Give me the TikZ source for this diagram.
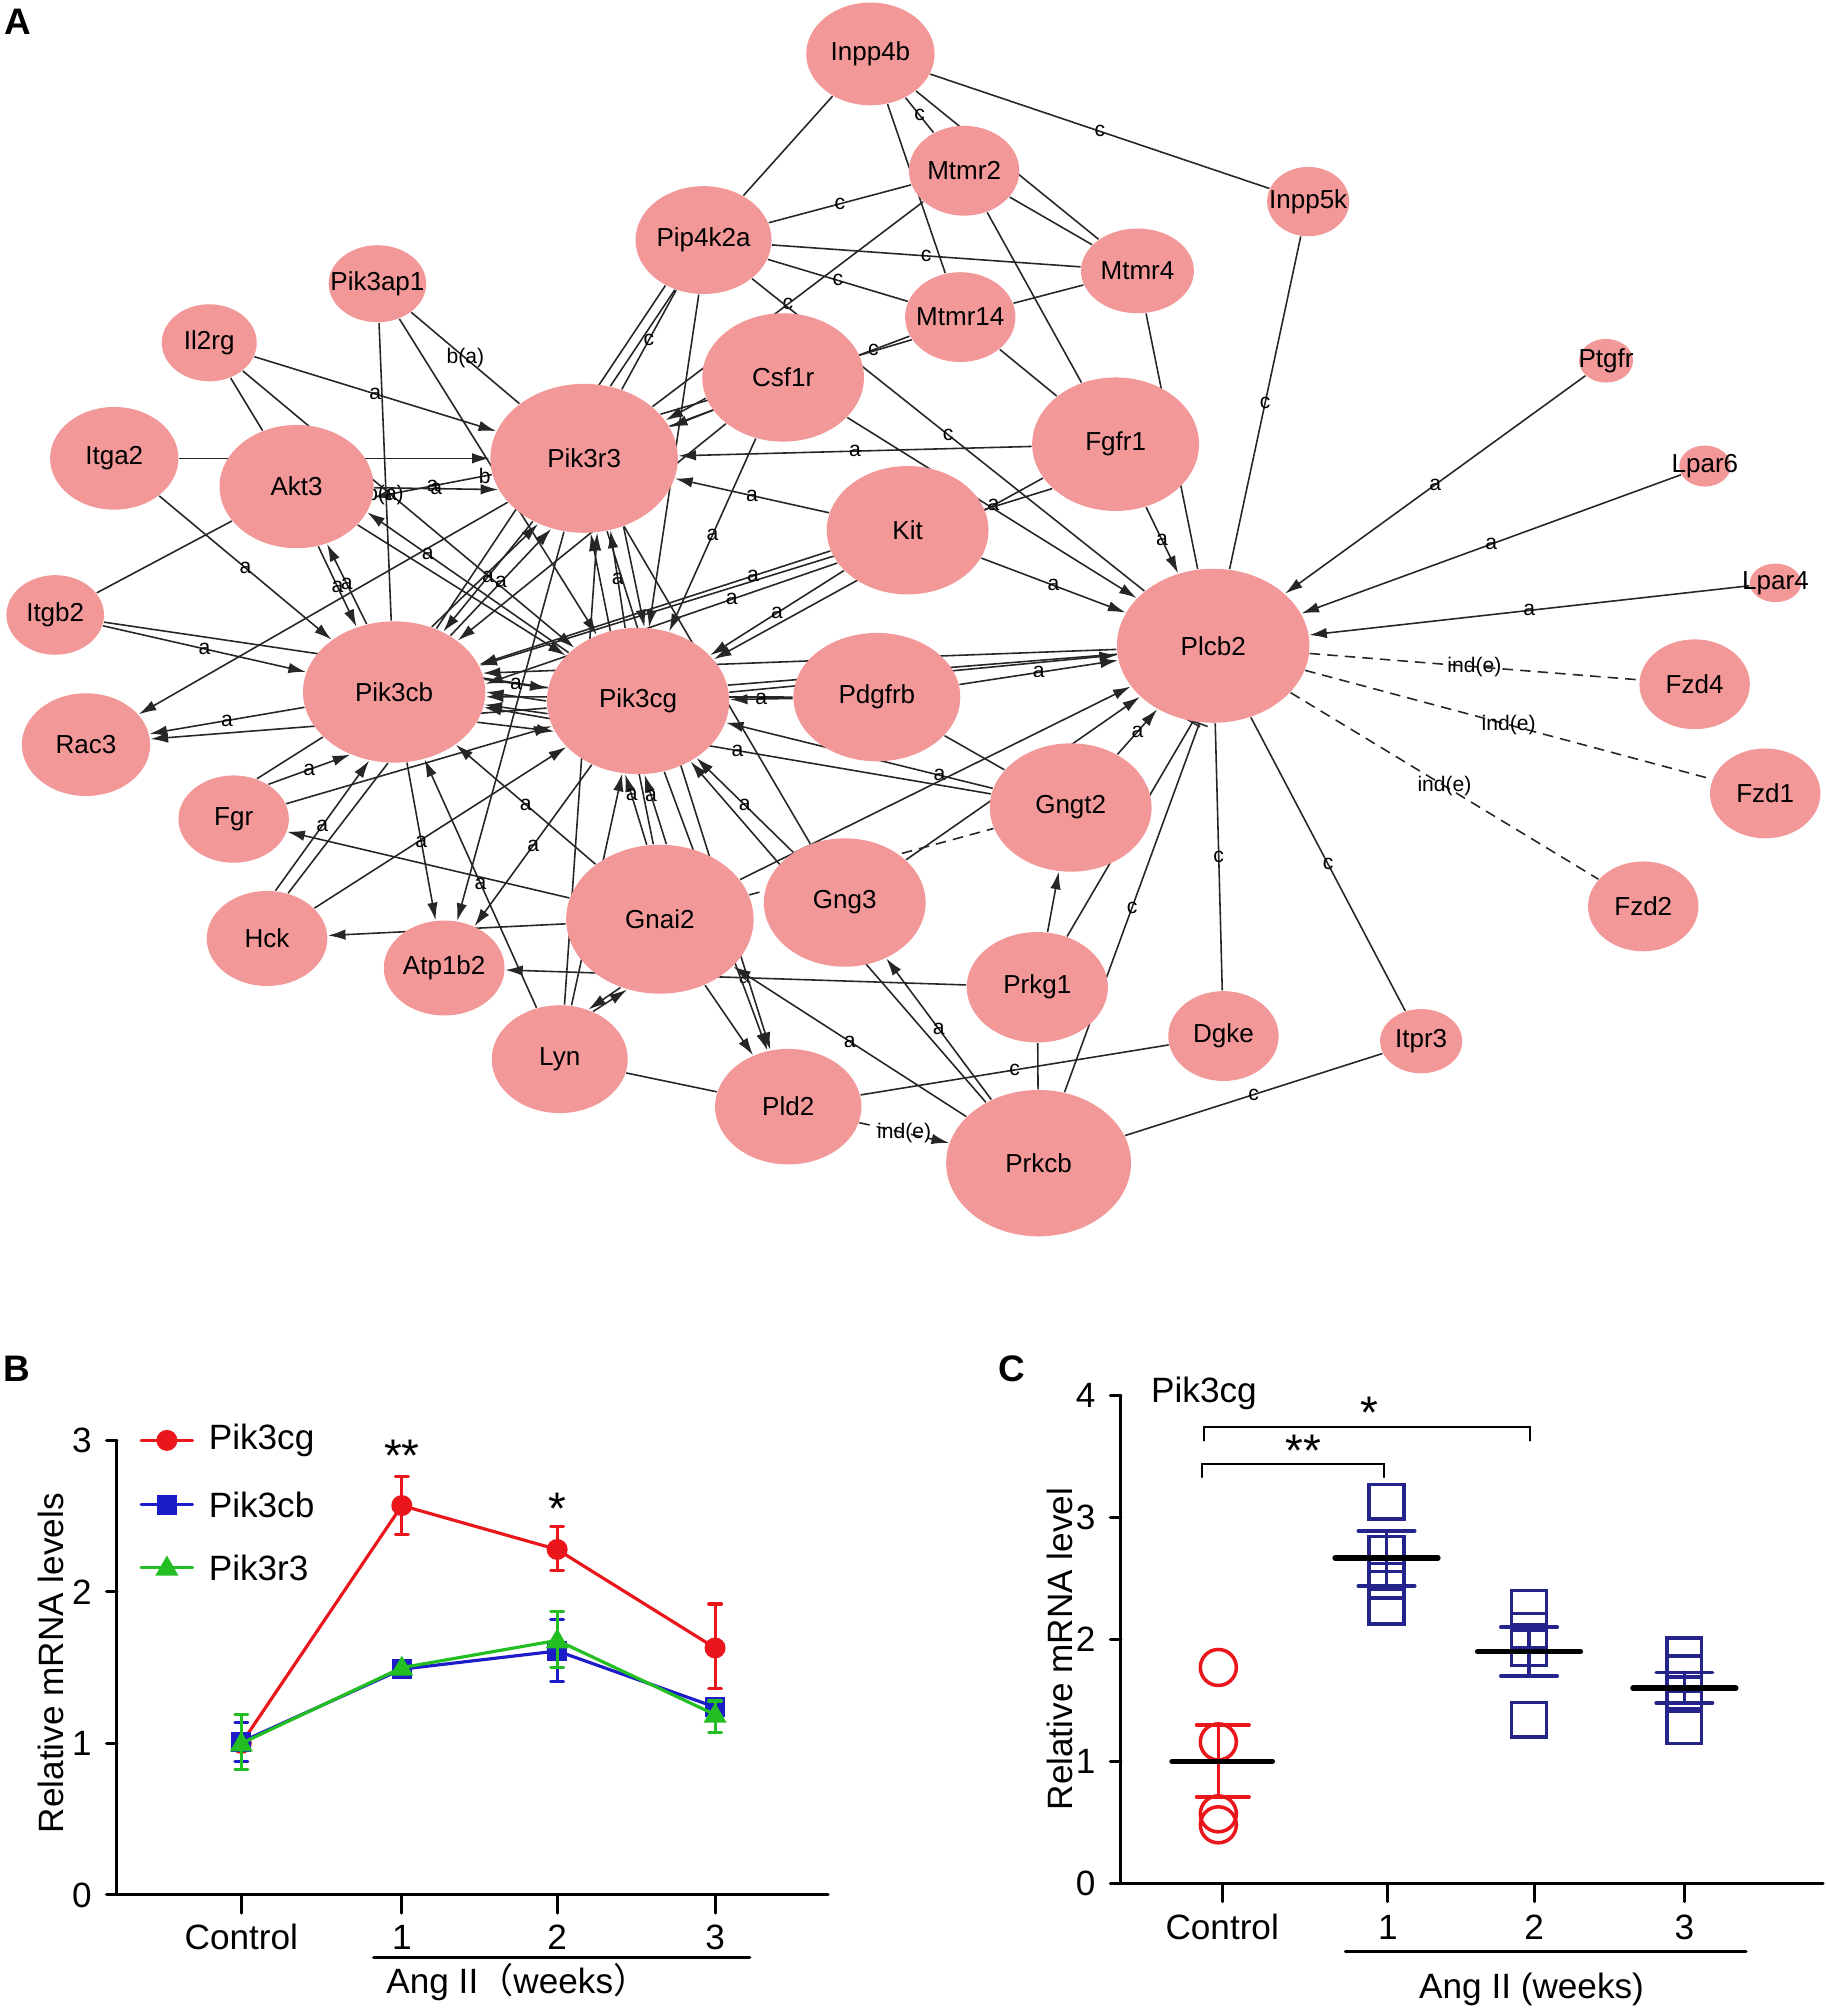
\documentclass[tikz,border=0pt]{standalone}
\usepackage{fontspec}
\setmainfont{Liberation Sans}
\setsansfont{Liberation Sans}
\newfontfamily\cjk{Noto Sans CJK SC}
\usepackage{xcolor}
\definecolor{genepink}{RGB}{243,152,153}
\definecolor{myred}{RGB}{235,22,28}
\definecolor{myblue}{RGB}{28,28,200}
\definecolor{mygreen}{RGB}{34,190,34}
\definecolor{mynavy}{RGB}{36,36,140}
\usepackage{tikz}
\usetikzlibrary{shapes.geometric,arrows.meta,backgrounds}
\newcommand{\px}{0.012834cm}

\begin{document}
\begin{tikzpicture}[x=\px,y=-\px,line cap=round,
	sz/.style 2 args={minimum width=#1*\px,minimum height=#2*\px}]
	\tikzstyle{gene}=[ellipse,fill=genepink,inner sep=0pt,label={[font=\fontsize{7.4}{8}\selectfont]center:#1}];
	\tikzstyle{ln}=[draw=black!85,line width=.45pt];
	\tikzstyle{ar}=[ln,-{Latex[length=5pt,width=3pt]}];
	\tikzstyle{inh}=[ln,-{Bar[width=5pt]}];
	\tikzstyle{dsh}=[ln,dash pattern=on 3pt off 2pt];
	\tikzstyle{lb}=[font=\fontsize{6}{6}\selectfont,inner sep=.5pt];
	\tikzstyle{ticklab}=[font=\fontsize{10}{12}\selectfont];
	\tikzstyle{axis}=[line width=.9pt];
	\tikzstyle{panel}=[font=\bfseries\fontsize{10.5}{11}\selectfont];
	\useasboundingbox (0,0) rectangle (1422,1568);
	\node[panel] (labA) at (14,17) {A};
	\node[panel] (labB) at (13,1066) {B};
	\node[panel] (labC) at (788,1066) {C};
	% network A
	\node[gene=Inpp4b,sz={100}{80}] (inpp4b) at (678,42) {};
	\node[gene=Mtmr2,sz={86}{70}] (mtmr2) at (751,133) {};
	\node[gene=Inpp5k,sz={64}{54}] (inpp5k) at (1019,157) {};
	\node[gene=Pip4k2a,sz={106}{84}] (pip4k2a) at (548,187) {};
	\node[gene=Mtmr4,sz={88}{66}] (mtmr4) at (886,211) {};
	\node[gene=Pik3ap1,sz={76}{60}] (pik3ap1) at (294,221) {};
	\node[gene=Mtmr14,sz={86}{70}] (mtmr14) at (748,247) {};
	\node[gene=Il2rg,sz={74}{60}] (il2rg) at (163,267) {};
	\node[gene=Csf1r,sz={126}{100}] (csf1r) at (610,294) {};
	\node[gene=Ptgfr,sz={42}{34}] (ptgfr) at (1251,281) {};
	\node[gene=Pik3r3,sz={146}{116}] (pik3r3) at (455,357) {};
	\node[gene=Fgfr1,sz={130}{104}] (fgfr1) at (869,346) {};
	\node[gene=Itga2,sz={100}{80}] (itga2) at (89,357) {};
	\node[gene=Akt3,sz={120}{96}] (akt3) at (231,379) {};
	\node[gene=Lpar6,sz={40}{32}] (lpar6) at (1328,363) {};
	\node[gene=Kit,sz={126}{100}] (kit) at (707,413) {};
	\node[gene=Itgb2,sz={76}{62}] (itgb2) at (43,479) {};
	\node[gene=Lpar4,sz={40}{30}] (lpar4) at (1383,454) {};
	\node[gene=Plcb2,sz={150}{120}] (plcb2) at (945,503) {};
	\node[gene=Pik3cb,sz={142}{110}] (pik3cb) at (307,539) {};
	\node[gene=Pik3cg,sz={142}{114}] (pik3cg) at (497,546) {};
	\node[gene=Pdgfrb,sz={130}{100}] (pdgfrb) at (683,543) {};
	\node[gene=Fzd4,sz={86}{70}] (fzd4) at (1320,533) {};
	\node[gene=Rac3,sz={100}{80}] (rac3) at (67,580) {};
	\node[gene=Fzd1,sz={86}{70}] (fzd1) at (1375,618) {};
	\node[gene=Gngt2,sz={126}{100}] (gngt2) at (834,629) {};
	\node[gene=Fgr,sz={86}{68}] (fgr) at (182,638) {};
	\node[gene=Gng3,sz={126}{100}] (gng3) at (658,703) {};
	\node[gene=Fzd2,sz={86}{70}] (fzd2) at (1280,706) {};
	\node[gene=Gnai2,sz={146}{116}] (gnai2) at (514,716) {};
	\node[gene=Hck,sz={94}{74}] (hck) at (208,731) {};
	\node[gene=Atp1b2,sz={94}{74}] (atp1b2) at (346,754) {};
	\node[gene=Prkg1,sz={110}{86}] (prkg1) at (808,769) {};
	\node[gene=Dgke,sz={86}{70}] (dgke) at (953,807) {};
	\node[gene=Itpr3,sz={64}{50}] (itpr3) at (1107,811) {};
	\node[gene=Lyn,sz={106}{84}] (lyn) at (436,825) {};
	\node[gene=Pld2,sz={114}{90}] (pld2) at (614,862) {};
	\node[gene=Prkcb,sz={144}{114}] (prkcb) at (809,906) {};
	\begin{pgfonlayer}{background}
	\draw[ln] (inpp4b) -- node[lb]{c} (inpp5k);
	\draw[ln] (inpp4b) -- (pip4k2a);
	\draw[ln] (inpp4b) -- node[lb]{c} (mtmr2);
	\draw[ln] (inpp4b) -- (mtmr4);
	\draw[ln] (inpp4b) -- (mtmr14);
	\draw[ln] (mtmr2) -- node[lb]{c} (pip4k2a);
	\draw[ln] (mtmr2) -- (mtmr4);
	\draw[ln] (mtmr2) -- node[lb]{c} (pik3r3);
	\draw[ln] (mtmr2) -- (fgfr1);
	\draw[ln] (pip4k2a) -- node[lb]{c} (mtmr4);
	\draw[ln] (pip4k2a) -- node[lb]{c} (mtmr14);
	\draw[ln] (pip4k2a) -- node[lb]{c} (plcb2);
	\draw[ln] (mtmr14) -- (mtmr4);
	\draw[ln] (mtmr14) -- node[lb,pos=.15]{c} (pik3r3);
	\draw[ln] (mtmr14.205) -- (pik3r3.30);
	\draw[ln] (mtmr14) -- (fgfr1);
	\draw[ln] (mtmr4) -- (plcb2);
	\draw[ln] (inpp5k) -- node[lb]{c} (plcb2);
	\draw[ln] (pip4k2a) -- node[lb]{c} (pik3r3);
	\draw[ln] (pip4k2a.240) -- (pik3r3.70);
	\draw[ln] (pip4k2a.230) -- (pik3cb);
	\draw[ar] (pip4k2a.265) -- (pik3cg);
	\draw[ar] (il2rg) -- node[lb]{a} (pik3r3);
	\draw[ln] (il2rg) -- (akt3);
	\draw[ar] (il2rg.-40) -- (pik3cg);
	\draw[ln] (pik3ap1) -- (pik3cb);
	\draw[ln] (pik3ap1) -- node[lb]{b(a)} (pik3r3);
	\draw[ar] (pik3ap1) -- (pik3cg);
	\draw[ar] (itga2) -- (pik3r3);
	\draw[ar] (itga2) -- node[lb]{a} (pik3cb);
	\draw[ar] (pik3r3.190) -- node[lb,pos=.06]{b} node[lb]{a} node[lb,pos=.9]{b(a)} (akt3.-8);
	\draw[ar] (akt3) -- node[lb]{a} (pik3r3.200);
	\draw[ln] (itgb2) -- (akt3);
	\draw[ar] (pik3r3) -- (rac3);
	\draw[ar] (itgb2) -- node[lb]{a} (pik3cb);
	\draw[ln] (itgb2) -- (pik3cg);
	\draw[ar] (akt3.-70) -- node[lb]{a} (pik3cb.120);
	\draw[ar] (pik3cb.112) -- node[lb]{a} (akt3.-62);
	\draw[ar] (akt3) -- (pik3cg);
	\draw[ar] (pik3cg) -- node[lb,pos=.7]{a} (akt3.-20);
	\draw[ar] (pik3cb) -- node[lb]{a} (rac3);
	\draw[ar] (pik3cg) -- (rac3.5);
	\draw[ln] (fgr.60) -- (pik3cb);
	\draw[ar] (fgr.45) -- node[lb]{a} (pik3cb.235);
	\draw[ar] (fgr) -- (pik3cg);
	\draw[ar] (gnai2) -- (fgr);
	\draw[ar] (hck.80) -- node[lb]{a} (pik3cb.250);
	\draw[ln] (hck.65) -- (pik3cb.265);
	\draw[ar] (hck) -- (pik3cg);
	\draw[ar] (gnai2) -- (hck);
	\draw[ar] (pik3cb) -- node[lb]{a} (atp1b2);
	\draw[ar] (lyn) -- node[lb]{a} (pik3cb);
	\draw[ar] (pik3r3) -- (atp1b2);
	\draw[ar] (pik3cg) -- node[lb]{a} (atp1b2);
	\draw[ar] (prkg1) -- node[lb,pos=.48]{a} (atp1b2);
	\draw[ar] (gnai2.240) -- (lyn.60);
	\draw[ar] (lyn.55) -- (gnai2.245);
	\draw[ar] (lyn) -- node[lb]{a} (pik3cg);
	\draw[ar] (lyn.85) -- (pik3r3.-80);
	\draw[ln] (lyn) -- (pld2);
	\draw[ar] (pik3r3) -- node[lb]{a} (pik3cb);
	\draw[ar] (pik3cb.60) -- (pik3r3.235);
	\draw[ar] (pik3cb.45) -- node[lb]{a} (pik3r3.245);
	\draw[ar] (pik3cg.100) -- node[lb]{a} (pik3r3.-70);
	\draw[ar] (gnai2.95) -- (pik3r3.-85);
	\draw[ar] (pik3r3.-60) -- (pik3cg.85);
	\draw[ar] (pik3cb.8) -- node[lb]{a} (pik3cg.172);
	\draw[ar] (pik3cg.180) -- (pik3cb.0);
	\draw[ar] (pik3cg.188) -- (pik3cb.-8);
	\draw[ar] (pdgfrb) -- (pik3cb.-3);
	\draw[ar] (plcb2) -- (pik3cb.12);
	\draw[ar] (pik3cb.-20) -- (pik3cg.200);
	\draw[ar] (csf1r) -- node[lb]{a} (pik3cg);
	\draw[ar] (csf1r.195) -- (pik3r3.25);
	\draw[ar] (csf1r.205) -- (pik3r3.20);
	\draw[ar] (csf1r) -- (pik3cb);
	\draw[ar] (csf1r) -- (plcb2);
	\draw[ar] (fgfr1) -- node[lb]{a} (pik3r3);
	\draw[ar] (fgfr1) -- node[lb]{a} (plcb2);
	\draw[ar] (fgfr1.205) -- node[lb,pos=.15]{a} (pik3cg);
	\draw[ar] (fgfr1.215) -- (pik3cb);
	\draw[ar] (kit) -- node[lb]{a} (pik3r3);
	\draw[ar] (kit) -- node[lb]{a} (plcb2);
	\draw[ar] (kit.195) -- node[lb,pos=.22]{a} (pik3cb);
	\draw[ar] (kit.205) -- node[lb,pos=.3]{a} (pik3cb.5);
	\draw[ar] (kit) -- node[lb]{a} (pik3cg);
	\draw[ln] (pik3cg.10) -- (plcb2.185);
	\draw[ar] (pik3cg) -- (plcb2);
	\draw[ar] (pdgfrb) -- node[lb]{a} (plcb2);
	\draw[ar] (pdgfrb) -- node[lb]{a} (pik3cg);
	\draw[ar] (gngt2) -- node[lb,pos=.2]{a} (pik3cg);
	\draw[ar] (gngt2) -- node[lb]{a} (pik3cb);
	\draw[ln] (pdgfrb) -- (gngt2);
	\draw[ln] (pik3r3) -- (gng3);
	\draw[ar] (gng3) -- node[lb]{a} (pik3cg);
	\draw[ar] (gng3) -- (plcb2);
	\draw[ar] (gnai2) -- (plcb2);
	\draw[dsh] (gnai2) -- node[lb,pos=.45]{ind(e)} (gngt2);
	\draw[ar] (prkg1) -- (gngt2);
	\draw[ar] (gngt2) -- node[lb]{a} (plcb2);
	\draw[inh] (prkg1) -- (plcb2.-105);
	\draw[inh] (prkcb) -- node[lb]{c} (plcb2.-100);
	\draw[ar] (prkcb) -- node[lb]{a} (gng3);
	\draw[ar] (prkcb) -- node[lb]{a} (gnai2);
	\draw[ar] (prkcb) -- (pik3cg);
	\draw[ar] (gnai2) -- (pld2);
	\draw[ar] (pik3cg) -- (pld2);
	\draw[ar] (pik3r3) -- (pld2);
	\draw[ln] (prkcb) -- (prkg1);
	\draw[dsh,-{Latex[length=5pt,width=3pt]}] (pld2) -- node[lb]{ind(e)} (prkcb);
	\draw[ln] (pld2) -- node[lb]{c} (dgke);
	\draw[ln] (prkcb) -- node[lb]{c} (itpr3);
	\draw[ln] (plcb2) -- node[lb]{c} (dgke);
	\draw[ln] (plcb2) -- node[lb]{c} (itpr3);
	\draw[ar] (ptgfr) -- node[lb]{a} (plcb2);
	\draw[ar] (lpar6) -- node[lb]{a} (plcb2);
	\draw[ar] (lpar4) -- node[lb]{a} (plcb2);
	\draw[dsh] (plcb2) -- node[lb]{ind(e)} (fzd4);
	\draw[dsh] (plcb2) -- node[lb]{ind(e)} (fzd1);
	\draw[dsh] (plcb2) -- node[lb]{ind(e)} (fzd2);
	\draw[ar] (gnai2.85) -- node[lb,pos=.7]{a} (pik3cg.-85);
	\draw[ar] (gnai2.100) -- node[lb,pos=.7]{a} (pik3cg.-100);
	\draw[ar] (gnai2) -- node[lb]{a} (pik3cb);
	\end{pgfonlayer}
	% panel B
	\begin{scope}[shift={(91,1476)},y=1.5144cm]
		\draw[axis] (0,3) -- (0,0) -- (554,0);
		\foreach \v in {0,1,2,3} {
			\draw[axis] (0,\v) -- (-8,\v);
			\node[ticklab,anchor=east] (yb\v) at (-10,\v) {\v};
		}
		\foreach \x/\t in {97/Control,222/1,343/2,466/3} {
			\draw[axis] (\x,0) -- (\x,-0.12);
			\node[ticklab] (xb\t) at (\x,-0.28) {\t};
		}
		\draw[axis] (200,-0.415) -- (493,-0.415);
		\node[ticklab] (angb) at (312,-0.575) {Ang II{\cjk（}weeks{\cjk）}};
		\node[ticklab,rotate=90] (ylabb) at (-51,1.53) {Relative mRNA levels};
		% red
		\draw[myred,axis] (97,1.0) -- (222,2.57) -- (343,2.28) -- (466,1.63);
		\foreach \x/\lo/\hi in {222/2.38/2.76,343/2.14/2.43,466/1.36/1.92}
			\draw[myred,axis] (\x-5,\lo) -- (\x+5,\lo) (\x,\lo) -- (\x,\hi) (\x-5,\hi) -- (\x+5,\hi);
		\foreach \x/\v in {97/1.0,222/2.57,343/2.28,466/1.63}
			\fill[myred] (\x,\v) circle[radius=.105cm];
		% blue
		\draw[myblue,axis] (97,1.01) -- (222,1.49) -- (343,1.61) -- (466,1.24);
		\foreach \x/\lo/\hi in {97/0.88/1.14,343/1.41/1.82,466/1.19/1.29}
			\draw[myblue,axis] (\x-5,\lo) -- (\x+5,\lo) (\x,\lo) -- (\x,\hi) (\x-5,\hi) -- (\x+5,\hi);
		\foreach \x/\v in {97/1.01,222/1.49,343/1.61,466/1.24}
			\fill[myblue] (\x,\v) ++(-.1cm,-.1cm) rectangle ++(.2cm,.2cm);
		% green
		\draw[mygreen,axis] (97,1.0) -- (222,1.50) -- (343,1.68) -- (466,1.19);
		\foreach \x/\lo/\hi in {97/0.83/1.19,343/1.50/1.87,466/1.07/1.28}
			\draw[mygreen,axis] (\x-5,\lo) -- (\x+5,\lo) (\x,\lo) -- (\x,\hi) (\x-5,\hi) -- (\x+5,\hi);
		\foreach \x/\v in {97/1.0,222/1.50,343/1.68,466/1.19}
			\fill[mygreen] (\x,\v) ++(0,.12cm) -- ++(-.115cm,-.2cm) -- ++(.23cm,0) -- cycle;
		% legend
		\draw[myred,axis] (19,3) -- (59,3);
		\fill[myred] (39,3) circle[radius=.105cm];
		\node[ticklab,anchor=west] (lgr) at (62,3) {Pik3cg};
		\draw[myblue,axis] (19,2.576) -- (59,2.576);
		\fill[myblue] (39,2.576) ++(-.1cm,-.1cm) rectangle ++(.2cm,.2cm);
		\node[ticklab,anchor=west] (lgb) at (62,2.576) {Pik3cb};
		\draw[mygreen,axis] (19,2.161) -- (59,2.161);
		\fill[mygreen] (39,2.161) ++(0,.12cm) -- ++(-.115cm,-.2cm) -- ++(.23cm,0) -- cycle;
		\node[ticklab,anchor=west] (lgg) at (62,2.161) {Pik3r3};
		\node[font=\fontsize{13}{14}\selectfont] (stb1) at (222,2.9) {**};
		\node[font=\fontsize{13}{14}\selectfont] (stb2) at (343,2.55) {*};
	\end{scope}
	% panel C
	\begin{scope}[shift={(873,1467)},y=1.2192cm]
		\draw[axis] (0,4) -- (0,0) -- (547,0);
		\foreach \v in {0,1,2,3,4} {
			\draw[axis] (0,\v) -- (-8,\v);
			\node[ticklab,anchor=east] (yc\v) at (-10,\v) {\v};
		}
		\foreach \x/\t in {79/Control,208/1,322/2,439/3} {
			\draw[axis] (\x,0) -- (\x,-0.15);
			\node[ticklab] (xc\t) at (\x,-0.36) {\t};
		}
		\draw[axis] (175,-0.56) -- (487,-0.56);
		\node[ticklab] (angc) at (320,-0.87) {Ang II (weeks)};
		\node[ticklab,rotate=90] (ylabc) at (-47,1.92) {Relative mRNA level};
		\node[ticklab,anchor=west] (titc) at (14,4.02) {Pik3cg};
		\draw[line width=.5pt] (65,3.63) -- (65,3.74) -- (319,3.74) -- (319,3.63);
		\draw[line width=.5pt] (63,3.33) -- (63,3.44) -- (205,3.44) -- (205,3.33);
		\node[font=\fontsize{13}{14}\selectfont] (stc1) at (194,3.86) {*};
		\node[font=\fontsize{13}{14}\selectfont] (stc2) at (142,3.55) {**};
		% control
		\foreach \v in {1.77,1.16,0.57,0.48}
			\draw[myred,line width=1pt] (76,\v) circle[radius=.18cm];
		\draw[myred,line width=1pt] (59,0.71) -- (100,0.71) (76,0.71) -- (76,1.30) (59,1.30) -- (100,1.30);
		\draw[line width=1.6pt] (40,1.0) -- (118,1.0);
		% weeks
		\foreach \x/\a/\b/\c/\d in {207/3.13/2.70/2.48/2.27,318/2.26/2.07/1.93/1.34,439/1.87/1.72/1.55/1.29}
			\foreach \v in {\a,\b,\c,\d}
				\draw[mynavy,line width=1pt] (\x,\v) ++(-.173cm,-.173cm) rectangle ++(.346cm,.346cm);
		\foreach \x/\m/\lo/\hi in {207/2.67/2.44/2.89,318/1.90/1.70/2.10,439/1.60/1.48/1.73} {
			\draw[mynavy,line width=1pt] (\x-22,\lo) -- (\x+22,\lo) (\x,\lo) -- (\x,\hi) (\x-22,\hi) -- (\x+22,\hi);
			\draw[line width=1.6pt] (\x-40,\m) -- (\x+40,\m);
		}
	\end{scope}
\end{tikzpicture}
\end{document}
